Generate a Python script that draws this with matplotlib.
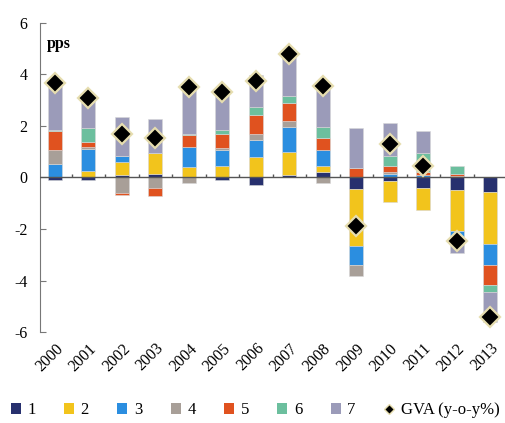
import numpy as np
import matplotlib.pyplot as plt
from matplotlib.lines import Line2D
from matplotlib.patches import Patch

plt.rcParams['font.family'] = ['Liberation Serif', 'DejaVu Serif']
plt.rcParams['axes.unicode_minus'] = False

years = [str(y) for y in range(2000, 2014)]
c1 = [-0.10, -0.10, 0.08, 0.15, 0.00, -0.10, -0.28, 0.10, 0.22, -0.46, -0.15, -0.40, -0.48, -0.58]
c2 = [0.03, 0.25, 0.52, 0.80, 0.42, 0.45, 0.80, 0.88, 0.22, -2.20, -0.80, -0.87, -1.60, -2.00]
c3 = [0.50, 0.87, 0.25, 0.00, 0.77, 0.60, 0.67, 0.97, 0.64, -0.73, 0.15, 0.10, -0.25, -0.80]
c4 = [0.52, 0.08, -0.62, -0.42, -0.20, 0.08, 0.22, 0.23, -0.20, -0.42, 0.08, 0.00, 0.05, 0.00]
c5 = [0.75, 0.18, -0.05, -0.30, 0.46, 0.56, 0.75, 0.70, 0.47, 0.38, 0.22, 0.10, 0.08, -0.81]
c6 = [0.05, 0.54, 0.00, 0.00, 0.02, 0.15, 0.28, 0.30, 0.42, 0.00, 0.38, 0.75, 0.30, -0.26]
c7 = [1.90, 1.15, 1.50, 1.32, 1.87, 1.45, 1.27, 1.60, 1.55, 1.52, 1.30, 0.85, -0.60, -1.15]
gva = [3.67, 3.10, 1.70, 1.52, 3.52, 3.33, 3.73, 4.78, 3.55, -1.90, 1.30, 0.45, -2.47, -5.40]

labels = ['1', '2', '3', '4', '5', '6', '7']
colors = ['#27306e', '#f2c41c', '#2b8ee0', '#a89f98', '#e0521f', '#6cbf9e', '#9b9bb9']

fig = plt.figure(figsize=(5.05, 4.23), dpi=100)
ax = fig.add_axes([0.079, 0.215, 0.925, 0.731])

x = np.arange(len(years))
pos = np.zeros(len(years))
neg = np.zeros(len(years))
for vals, col in zip([c1, c2, c3, c4, c5, c6, c7], colors):
    v = np.array(vals)
    bottom = np.where(v >= 0, pos, neg)
    ax.bar(x, v, 0.42, bottom=bottom, color=col, edgecolor='#d8d8d8', linewidth=0.4, zorder=2)
    pos = pos + np.clip(v, 0, None)
    neg = neg + np.clip(v, None, 0)

ax.plot(x, gva, linestyle='none', marker='D', markersize=10, markerfacecolor='black',
        markeredgecolor='#e6ddaf', markeredgewidth=1.6, zorder=4)

# zero line with small ticks between categories
ax.axhline(0, color='#555555', linewidth=1.0, zorder=3)
ax.vlines(x[:-1] + 0.5, 0, 0.13, color='#555555', linewidth=1.0, zorder=3)

ax.set_xlim(-0.45, len(years) - 0.5)
ax.set_ylim(-6, 6)
ax.set_yticks(np.arange(-6, 7, 2))
ax.tick_params(axis='y', direction='in', length=4, color='#777777', labelsize=11.5, pad=9)
ax.set_xticks(x)
ax.set_xticklabels(years, rotation=45, ha='right', rotation_mode='anchor', fontsize=11.5)
ax.tick_params(axis='x', length=0, pad=6)
for s in ['top', 'right', 'bottom']:
    ax.spines[s].set_visible(False)
ax.spines['left'].set_color('#777777')

ax.text(0.015, 0.93, 'pps', transform=ax.transAxes, fontsize=11.5, fontweight='bold',
        ha='left', va='center')

handles = [Patch(facecolor=c, edgecolor='none') for c in colors]
handles.append(Line2D([], [], linestyle='none', marker='D', markersize=5,
                      markerfacecolor='black', markeredgecolor='#e6ddaf', markeredgewidth=1))
fig.legend(handles, labels + ['GVA (y-o-y%)'], loc='center', bbox_to_anchor=(0.505, 0.03),
           ncol=8, frameon=False, fontsize=12, handlelength=0.6, handleheight=0.6,
           handletextpad=0.4, columnspacing=1.7)

fig.savefig('out.png', dpi=100)
